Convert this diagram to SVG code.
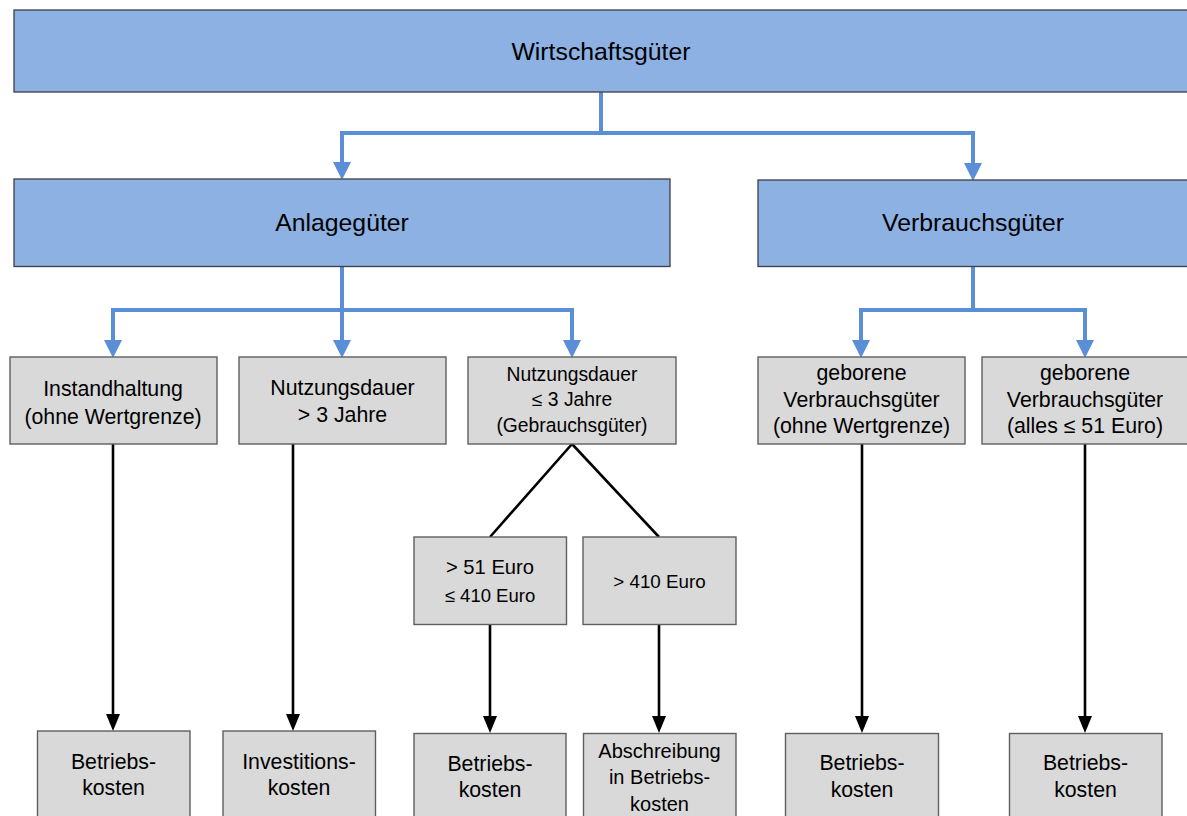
<svg xmlns="http://www.w3.org/2000/svg" width="1187" height="816" viewBox="0 0 1187 816">
<defs>
<style>
.blue{fill:#8DB1E3;stroke:#3a3f48;stroke-width:1.3}
.grey{fill:#D9D9D9;stroke:#5f5f5f;stroke-width:1.4}
text{font-family:"Liberation Sans",Arial,sans-serif;fill:#000;text-anchor:middle}
.t1{font-size:24.8px}
.t2{font-size:21.3px}
.t3{font-size:19.3px}
.bl{fill:none;stroke:#5A8ED6;stroke-width:4;marker-end:url(#ab)}
.bk{fill:none;stroke:#000;stroke-width:2.6;marker-end:url(#ak)}
.bd{fill:none;stroke:#000;stroke-width:2.6}
</style>
<marker id="ab" markerUnits="userSpaceOnUse" markerWidth="18" markerHeight="19" refX="11" refY="9" orient="auto" viewBox="0 0 18 19">
<path d="M0,0 L18,9 L0,18 z" fill="#5A8ED6"/>
</marker>
<marker id="ak" markerUnits="userSpaceOnUse" markerWidth="17" markerHeight="15" refX="11" refY="7" orient="auto" viewBox="0 0 17 15">
<path d="M0,0 L17,7 L0,14 z" fill="#000"/>
</marker>
</defs>
<rect width="1187" height="816" fill="#fff"/>

<g id="connectors">
<path class="bl" d="M601,92 V133 H342 V173"/>
<path class="bl" d="M601,133 H973 V174"/>
<path class="bl" d="M342,267 V310 H113 V351"/>
<path class="bl" d="M342,310 V351"/>
<path class="bl" d="M342,310 H572 V351"/>
<path class="bl" d="M973,267 V310 H861 V351"/>
<path class="bl" d="M973,310 H1085 V351"/>
<path class="bk" d="M113,444 V725"/>
<path class="bk" d="M293,444 V725"/>
<path class="bd" d="M572,444 L490,537"/>
<path class="bd" d="M572,444 L659,537"/>
<path class="bk" d="M490,624 V727"/>
<path class="bk" d="M659,624 V727"/>
<path class="bk" d="M862,444 V727"/>
<path class="bk" d="M1085,444 V727"/>
</g>

<g id="wirtschaftsgueter">
<rect class="blue" x="14" y="10" width="1178" height="82"/>
<text class="t1" x="601" y="59.5">Wirtschaftsgüter</text>
</g>
<g id="anlagegueter">
<rect class="blue" x="14" y="179" width="656" height="87.5"/>
<text class="t1" x="342" y="230.7">Anlagegüter</text>
</g>
<g id="verbrauchsgueter">
<rect class="blue" x="758" y="180" width="434" height="86.5"/>
<text class="t1" x="973" y="231">Verbrauchsgüter</text>
</g>

<g id="instandhaltung">
<rect class="grey" x="10" y="357" width="207" height="87"/>
<text class="t2" x="113" y="396">Instandhaltung</text>
<text class="t2" x="113" y="423.5">(ohne Wertgrenze)</text>
</g>
<g id="nutzung-gt3">
<rect class="grey" x="239" y="357" width="207" height="87"/>
<text class="t2" x="342.5" y="395">Nutzungsdauer</text>
<text class="t2" x="342.5" y="422">&gt; 3 Jahre</text>
</g>
<g id="nutzung-le3">
<rect class="grey" x="468" y="357" width="208" height="87"/>
<text class="t3" x="572" y="380.7">Nutzungsdauer</text>
<text class="t3" x="572" y="405.7">≤ 3 Jahre</text>
<text class="t3" x="572" y="431.7">(Gebrauchsgüter)</text>
</g>
<g id="geborene1">
<rect class="grey" x="758" y="357" width="207" height="87"/>
<text class="t2" x="861.5" y="380">geborene</text>
<text class="t2" x="861.5" y="406.5">Verbrauchsgüter</text>
<text class="t2" x="861.5" y="433">(ohne Wertgrenze)</text>
</g>
<g id="geborene2">
<rect class="grey" x="982" y="357" width="210" height="87"/>
<text class="t2" x="1085" y="380">geborene</text>
<text class="t2" x="1085" y="406.5">Verbrauchsgüter</text>
<text class="t2" x="1085" y="433">(alles ≤ 51 Euro)</text>
</g>

<g id="euro51-410">
<rect class="grey" x="414" y="537" width="152.5" height="87.5"/>
<text x="490" y="574.3" style="font-size:20.2px">&gt; 51 Euro</text>
<text x="490" y="601.7" style="font-size:18.5px">≤ 410 Euro</text>
</g>
<g id="euro410">
<rect class="grey" x="583" y="537" width="153" height="87.5"/>
<text x="659.5" y="588.3" style="font-size:18.8px">&gt; 410 Euro</text>
</g>

<g id="k1">
<rect class="grey" x="37.5" y="731" width="152.5" height="90"/>
<text class="t2" x="113.5" y="768.5">Betriebs-</text>
<text class="t2" x="113.5" y="795">kosten</text>
</g>
<g id="k2">
<rect class="grey" x="223" y="731" width="152.5" height="90"/>
<text class="t2" x="299" y="768.5">Investitions-</text>
<text class="t2" x="299" y="795">kosten</text>
</g>
<g id="k3">
<rect class="grey" x="414" y="733.5" width="152" height="90"/>
<text class="t2" x="490" y="771">Betriebs-</text>
<text class="t2" x="490" y="797">kosten</text>
</g>
<g id="k4">
<rect class="grey" x="583.5" y="733.5" width="152.5" height="90"/>
<text x="659.5" y="757.5" style="font-size:20px">Abschreibung</text>
<text x="659.5" y="784" style="font-size:20px">in Betriebs-</text>
<text x="659.5" y="810.5" style="font-size:20px">kosten</text>
</g>
<g id="k5">
<rect class="grey" x="785.5" y="733.5" width="153" height="90"/>
<text class="t2" x="862" y="770">Betriebs-</text>
<text class="t2" x="862" y="797">kosten</text>
</g>
<g id="k6">
<rect class="grey" x="1009.5" y="733.5" width="152.5" height="90"/>
<text class="t2" x="1085.5" y="770">Betriebs-</text>
<text class="t2" x="1085.5" y="797">kosten</text>
</g>
</svg>
